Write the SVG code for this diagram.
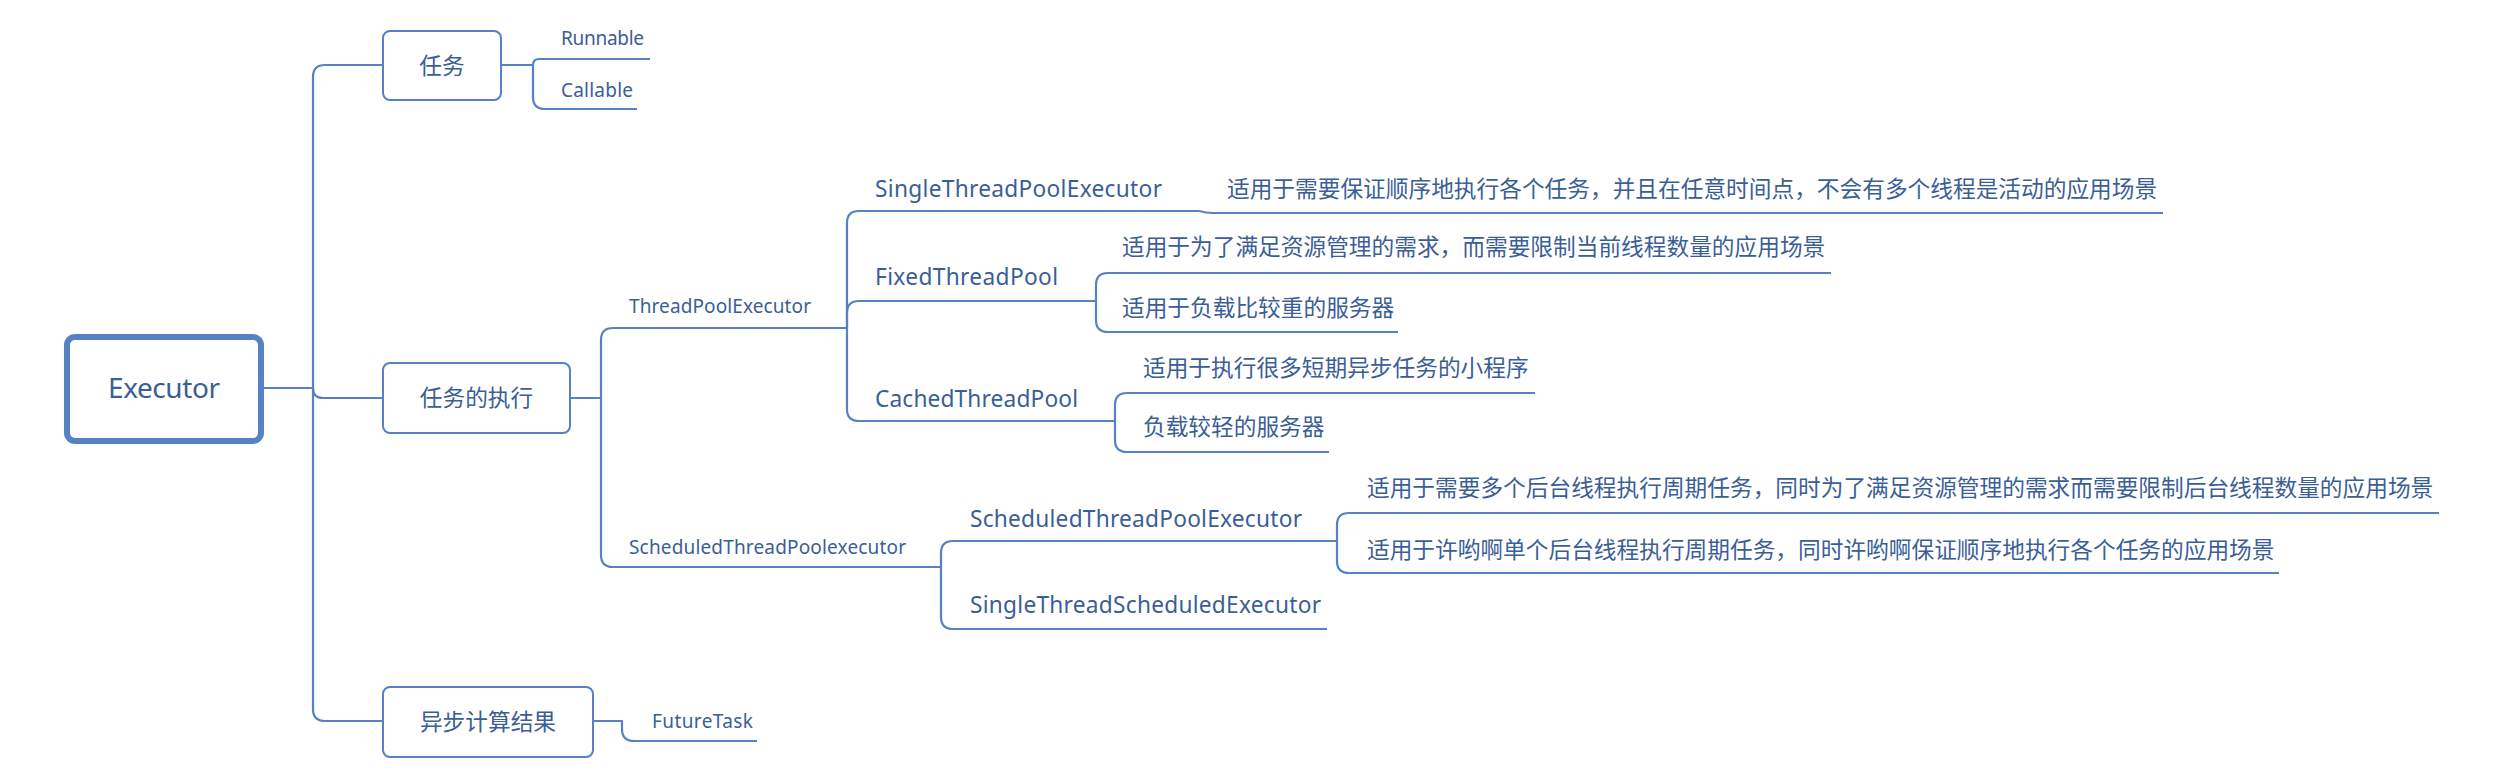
<svg xmlns="http://www.w3.org/2000/svg" width="2504" height="776" viewBox="0 0 2504 776">
<style>
.conn{fill:none;stroke:#5582C2;stroke-width:2.2;stroke-linejoin:round}
.box{fill:#ffffff;stroke:#5582C2;stroke-width:2}
.root{fill:#ffffff;stroke:#5582C2;stroke-width:6}
.t{fill:#3B5E96}
.lat{font-family:"Noto Sans","Open Sans","Liberation Sans",sans-serif}
.cjk{font-family:"Noto Sans CJK SC","Noto Sans",sans-serif}
.s{font-size:19px}
.m{font-size:22.7px}
.c{text-anchor:middle}
</style>
<rect x="0" y="0" width="2504" height="776" fill="#ffffff"/>
<g id="connectors">
<path class="conn" d="M264,388 H313 V77 Q313,65 325,65 H383"/>
<path class="conn" d="M313,388 Q313,398 323,398 H383"/>
<path class="conn" d="M313,388 V709 Q313,721 325,721 H383"/>
<path class="conn" d="M501,65 H533 Q533,59 539,59 H650"/>
<path class="conn" d="M533,65 V97 Q533,109 545,109 H637"/>
<path class="conn" d="M570,398 H601 V340 Q601,328 613,328 H847"/>
<path class="conn" d="M601,398 V555 Q601,567 613,567 H941"/>
<path class="conn" d="M847,328 V223 Q847,211 859,211 H1199"/>
<path class="conn" d="M847,328 V313 Q847,301 859,301 H1096"/>
<path class="conn" d="M847,328 V409 Q847,421 859,421 H1115"/>
<path class="conn" d="M1199,211 Q1206,213 1213,213 H2163"/>
<path class="conn" d="M1096,301 V285 Q1096,273 1108,273 H1831"/>
<path class="conn" d="M1096,301 V320 Q1096,332 1108,332 H1398"/>
<path class="conn" d="M1115,421 V405 Q1115,393 1127,393 H1535"/>
<path class="conn" d="M1115,421 V440 Q1115,452 1127,452 H1329"/>
<path class="conn" d="M941,567 V553 Q941,541 953,541 H1337"/>
<path class="conn" d="M941,567 V617 Q941,629 953,629 H1327"/>
<path class="conn" d="M1337,541 V525 Q1337,513 1349,513 H2439"/>
<path class="conn" d="M1337,541 V561 Q1337,573 1349,573 H2279"/>
<path class="conn" d="M593,721 H622 V729 Q622,741 634,741 H757"/>
</g>
<g id="executor">
<rect class="root" x="67" y="337" width="194" height="104" rx="8"/>
<text class="t lat c" x="164" y="398" font-size="28" textLength="112">Executor</text>
</g>
<g id="renwu">
<rect class="box" x="383" y="31" width="118" height="69" rx="7"/>
<text class="t cjk m c" x="442" y="74">任务</text>
</g>
<g id="runnable"><text class="t lat s" x="561" y="45" textLength="83">Runnable</text></g>
<g id="callable"><text class="t lat s" x="561" y="97" textLength="72">Callable</text></g>
<g id="renwu-zhixing">
<rect class="box" x="383" y="363" width="187" height="70" rx="7"/>
<text class="t cjk m c" x="476.5" y="406">任务的执行</text>
</g>
<g id="threadpoolexecutor"><text class="t lat s" x="629" y="313" textLength="182">ThreadPoolExecutor</text></g>
<g id="scheduledthreadpoolexecutor-group"><text class="t lat s" x="629" y="554" textLength="277">ScheduledThreadPoolexecutor</text></g>
<g id="singlethreadpoolexecutor"><text class="t lat m" x="875" y="197" textLength="287">SingleThreadPoolExecutor</text></g>
<g id="fixedthreadpool"><text class="t lat m" x="875" y="285" textLength="183">FixedThreadPool</text></g>
<g id="cachedthreadpool"><text class="t lat m" x="875" y="407" textLength="203">CachedThreadPool</text></g>
<g id="desc-single"><text class="t cjk m" x="1227" y="197">适用于需要保证顺序地执行各个任务，并且在任意时间点，不会有多个线程是活动的应用场景</text></g>
<g id="desc-fixed-1"><text class="t cjk m" x="1122" y="255">适用于为了满足资源管理的需求，而需要限制当前线程数量的应用场景</text></g>
<g id="desc-fixed-2"><text class="t cjk m" x="1122" y="316">适用于负载比较重的服务器</text></g>
<g id="desc-cached-1"><text class="t cjk m" x="1143" y="376">适用于执行很多短期异步任务的小程序</text></g>
<g id="desc-cached-2"><text class="t cjk m" x="1143" y="435">负载较轻的服务器</text></g>
<g id="scheduledthreadpoolexecutor"><text class="t lat m" x="970" y="527" textLength="332">ScheduledThreadPoolExecutor</text></g>
<g id="singlethreadscheduledexecutor"><text class="t lat m" x="970" y="613" textLength="351">SingleThreadScheduledExecutor</text></g>
<g id="desc-scheduled-1"><text class="t cjk m" x="1367" y="496">适用于需要多个后台线程执行周期任务，同时为了满足资源管理的需求而需要限制后台线程数量的应用场景</text></g>
<g id="desc-scheduled-2"><text class="t cjk m" x="1367" y="558">适用于许哟啊单个后台线程执行周期任务，同时许哟啊保证顺序地执行各个任务的应用场景</text></g>
<g id="yibu">
<rect class="box" x="383" y="687" width="210" height="70" rx="7"/>
<text class="t cjk m c" x="488" y="730">异步计算结果</text>
</g>
<g id="futuretask"><text class="t lat s" x="652" y="728" textLength="101">FutureTask</text></g>
</svg>
